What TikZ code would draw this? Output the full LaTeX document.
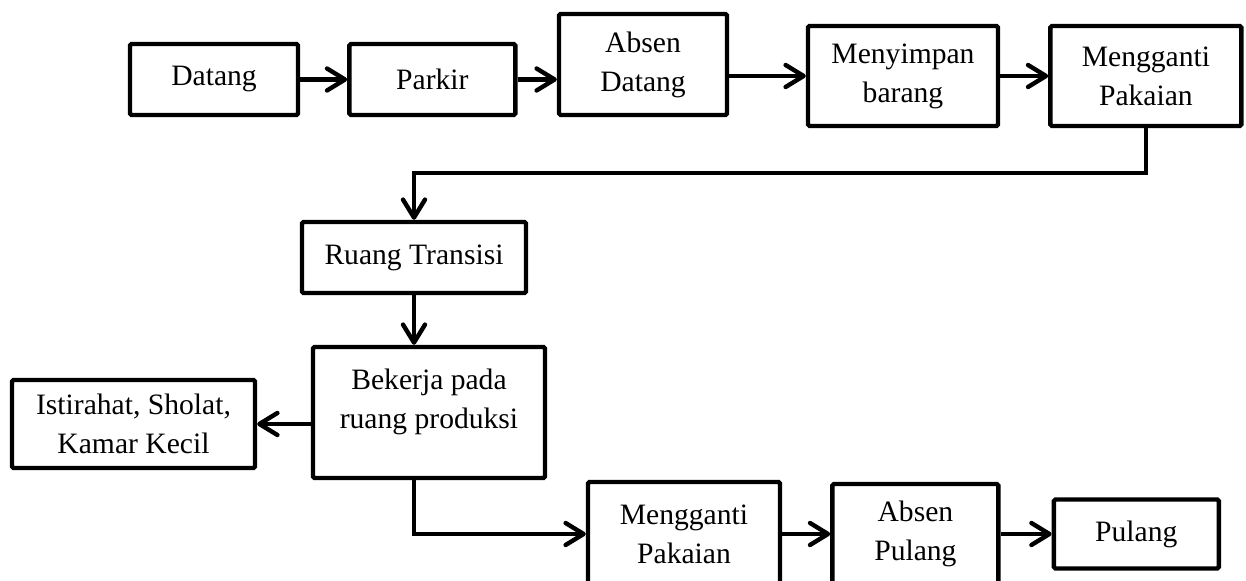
\documentclass[tikz,border=0pt]{standalone}
\usepackage{fontspec}
\setmainfont{Liberation Serif}
\usetikzlibrary{positioning,arrows.meta}

\begin{document}
\begin{tikzpicture}[x=0.5pt,y=-0.5pt,
  bx/.style={rectangle,draw,line width=2.2pt,rounded corners=0.8pt,align=center,inner sep=0pt,font=\fontsize{14.8}{19.5}\selectfont},
  ar/.style={line width=2.2pt,-{Straight Barb[length=9pt,width=11pt,round]}}]
  \useasboundingbox (0,0) rectangle (1246,581);
  \clip (0,0) rectangle (1246,581);

  % arrival
  \node[bx,minimum width=84pt,minimum height=35.5pt] (d) at (214,79.5) {Datang};
  \node[bx,minimum width=83pt,minimum height=35.5pt,right=23.5pt] (p) at (d.east) {Parkir};
  \node[bx,minimum width=84pt,minimum height=50.5pt] (a) at (643,64.5) {Absen\\Datang};
  \node[bx,minimum width=95pt,minimum height=50pt] (m) at (903,76) {Menyimpan\\barang};
  \node[bx,minimum width=95.5pt,minimum height=50pt,right=24pt] (g1) at (m.east) {Mengganti\\Pakaian};

  % work
  \node[bx,minimum width=112pt,minimum height=35.5pt] (r) at (414,257.5) {Ruang Transisi};
  \node[bx,minimum width=116pt,minimum height=65.5pt,text depth=14pt] (b) at (429,412.5) {Bekerja pada\\ruang produksi};
  \node[bx,minimum width=121.5pt,minimum height=44pt] (i) at (133.5,424) {Istirahat, Sholat,\\Kamar Kecil};

  % leaving
  \node[bx,minimum width=96pt,minimum height=52pt] (g2) at (684,534) {Mengganti\\Pakaian};
  \node[bx,minimum width=83pt,minimum height=50pt,right=24pt] (ap) at (g2.east) {Absen\\Pulang};
  \node[bx,minimum width=82.5pt,minimum height=34.5pt,right=25.5pt] (pl) at (ap.east) {Pulang};

  \draw[ar] (d) -- (p);
  \draw[ar] (p) -- (p -| a.west);
  \draw[ar] (a.east |- m) -- (m);
  \draw[ar] (m) -- (g1);
  \draw[ar] (g1.south) -- ++(0,45) -| (r);
  \draw[ar] (r) -- (r |- b.north);
  \draw[ar] (b.west |- i) -- (i);
  \draw[ar] (b.south -| r) |- (g2);
  \draw[ar] (g2) -- (ap);
  \draw[ar] (ap) -- (pl);
\end{tikzpicture}
\end{document}
